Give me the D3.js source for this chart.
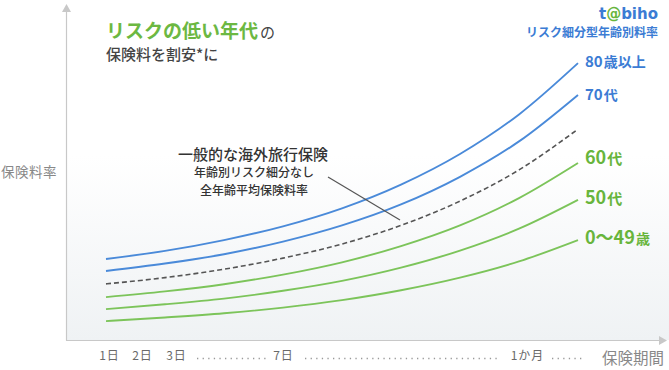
<!DOCTYPE html>
<html><head><meta charset="utf-8">
<script src="https://cdn.jsdelivr.net/npm/d3@7"></script>
<style>
html,body{margin:0;padding:0;background:#fff;}
svg{display:block;font-family:"Noto Sans CJK JP","Noto Sans",sans-serif;}
</style></head>
<body><svg id="c" width="669" height="370"></svg>
<script>
// ---- data ----
const samples = [0,1,2,3,4,5,6,7,8];               // sample points along the insurance period
const rate80plus = [27.0,29.7,33.3,37.9,43.9,51.8,62.0,75.2,92.3];
const rate70s    = [23.0,25.5,28.6,32.8,38.2,45.2,54.4,66.2,81.7];
const rateAvg    = [18.7,20.8,23.6,27.3,32.0,38.2,46.3,56.7,70.3];
const rate60s    = [14.3,16.2,18.6,21.8,25.9,31.3,38.2,47.3,59.0];
const rate50s    = [10.3,11.9,13.8,16.4,19.7,24.1,29.8,37.1,46.7];
const rateUnder50= [6.3,7.5,8.9,10.8,13.3,16.6,20.8,26.2,33.3];
const tickDays   = [1,2,3,7,30];
const tickLabels = ["1日","2日","3日","7日","1か月"];

const blue = "#4a8ad9", green = "#7cc45a", blueText = "#3b7cd4", greenText = "#68b53c";

const svg = d3.select("#c");
const defs = svg.append("defs");
const g = defs.append("linearGradient").attr("id","bg").attr("x1",0).attr("y1",0).attr("x2",0).attr("y2",1);
g.append("stop").attr("offset","0%").attr("stop-color","#ffffff");
g.append("stop").attr("offset","45%").attr("stop-color","#ffffff");
g.append("stop").attr("offset","100%").attr("stop-color","#eff2f4");
svg.append("rect").attr("x",66).attr("y",5).attr("width",603).attr("height",335).attr("fill","url(#bg)");

const x = d3.scaleLinear().domain([0,8]).range([106,578]);
const y = d3.scaleLinear().domain([0,100]).range([340,40]);
const xTick = d3.scaleLinear().domain([1,2,3,7,30]).range([109,142,176,283,527]);

// axes
const ax = svg.append("g").attr("stroke","#c8c8c8").attr("fill","none");
ax.append("line").attr("x1",66.5).attr("x2",66.5).attr("y1",9).attr("y2",340.5).attr("stroke-width",1.2);
ax.append("line").attr("x1",66).attr("x2",660).attr("y1",340.5).attr("y2",340.5).attr("stroke-width",1.2);
svg.append("path").attr("d","M66.5,4 L62,12 L71,12 Z").attr("fill","#c8c8c8");
svg.append("path").attr("d","M667,340.5 L659,336 L659,345 Z").attr("fill","#c8c8c8");

const line = d3.line().x((d,i)=>x(samples[i])).y(d=>y(d)).curve(d3.curveMonotoneX);
const series = [
  {v:rateUnder50,c:green,w:1.9},
  {v:rate50s,c:green,w:1.9},
  {v:rate60s,c:green,w:1.9},
  {v:rateAvg,c:"#555",w:1.6,dash:"5,3"},
  {v:rate70s,c:blue,w:1.9},
  {v:rate80plus,c:blue,w:1.9}
];
svg.selectAll("path.s").data(series).join("path").attr("class","s")
  .attr("d",d=>line(d.v)).attr("fill","none").attr("stroke",d=>d.c)
  .attr("stroke-width",d=>d.w).attr("stroke-dasharray",d=>d.dash||null);

// x tick labels via axis
const xa = d3.axisBottom(xTick).tickValues(tickDays).tickFormat((d,i)=>tickLabels[i]).tickSize(0).tickPadding(0);
const xg = svg.append("g").attr("transform","translate(0,351)").call(xa);
xg.select(".domain").remove();
xg.selectAll("text").attr("fill","#6a6a6a").attr("font-size",12).attr("letter-spacing",1).attr("font-family","\"Noto Sans CJK JP\",sans-serif").attr("dy","0.71em");
// dotted fillers
const dots = [[197,266],[305,500],[552,585]];
svg.selectAll("line.dot").data(dots).join("line").attr("class","dot")
  .attr("x1",d=>d[0]).attr("x2",d=>d[1]).attr("y1",358.5).attr("y2",358.5)
  .attr("stroke","#999").attr("stroke-width",1.3).attr("stroke-dasharray","1.3,4.3");
svg.append("text").attr("x",602).attr("y",364).attr("font-size",15.5).attr("fill","#888").text("保険期間");
svg.append("text").attr("x",1).attr("y",177).attr("font-size",13.5).attr("fill","#888").attr("letter-spacing",0.5).text("保険料率");

// title
const t1 = svg.append("text").attr("x",106).attr("y",38);
t1.append("tspan").attr("font-size",19).attr("font-weight","bold").attr("fill","#6cb842").text("リスクの低い年代");
t1.append("tspan").attr("font-size",15).attr("fill","#444").attr("dx",2).text("の");
svg.append("text").attr("x",106).attr("y",60).attr("font-size",15).attr("font-weight",500).attr("fill","#444").text("保険料を割安*に");

// top right
const tb = svg.append("text").attr("x",658).attr("y",19).attr("text-anchor","end").attr("font-size",15).attr("font-weight","bold").attr("font-family","\"DejaVu Sans\",sans-serif").attr("fill",blueText);
tb.append("tspan").text("t");
tb.append("tspan").attr("fill",greenText).text("@");
tb.append("tspan").text("biho");
svg.append("text").attr("x",658).attr("y",37).attr("text-anchor","end").attr("font-size",12).attr("font-weight","bold").attr("fill",blueText).text("リスク細分型年齢別料率");

// annotation
svg.append("text").attr("x",253).attr("y",160).attr("text-anchor","middle").attr("font-size",15).attr("font-weight",500).attr("fill","#333").text("一般的な海外旅行保険");
svg.append("text").attr("x",254).attr("y",177).attr("text-anchor","middle").attr("font-size",12).attr("font-weight",500).attr("fill","#333").text("年齢別リスク細分なし");
svg.append("text").attr("x",254).attr("y",195).attr("text-anchor","middle").attr("font-size",12).attr("font-weight",500).attr("fill","#333").text("全年齢平均保険料率");
svg.append("line").attr("x1",328).attr("y1",177).attr("x2",400).attr("y2",220).attr("stroke","#555").attr("stroke-width",1.2);

// series labels
const labels = [
  {num:"80",unit:"歳以上",c:blueText,y:67,ns:15,us:14},
  {num:"70",unit:"代",c:blueText,y:100,ns:15,us:14},
  {num:"60",unit:"代",c:greenText,y:164,ns:18,us:15},
  {num:"50",unit:"代",c:greenText,y:204,ns:18,us:15},
  {num:"0〜49",unit:"歳",c:greenText,y:244,ns:18,us:14}
];
labels.forEach(l=>{
  const t = svg.append("text").attr("x",585).attr("y",l.y).attr("fill",l.c).attr("font-weight","bold");
  t.append("tspan").attr("font-size",l.ns).text(l.num);
  t.append("tspan").attr("font-size",l.us).attr("dx",1).text(l.unit);
});
</script></body></html>
